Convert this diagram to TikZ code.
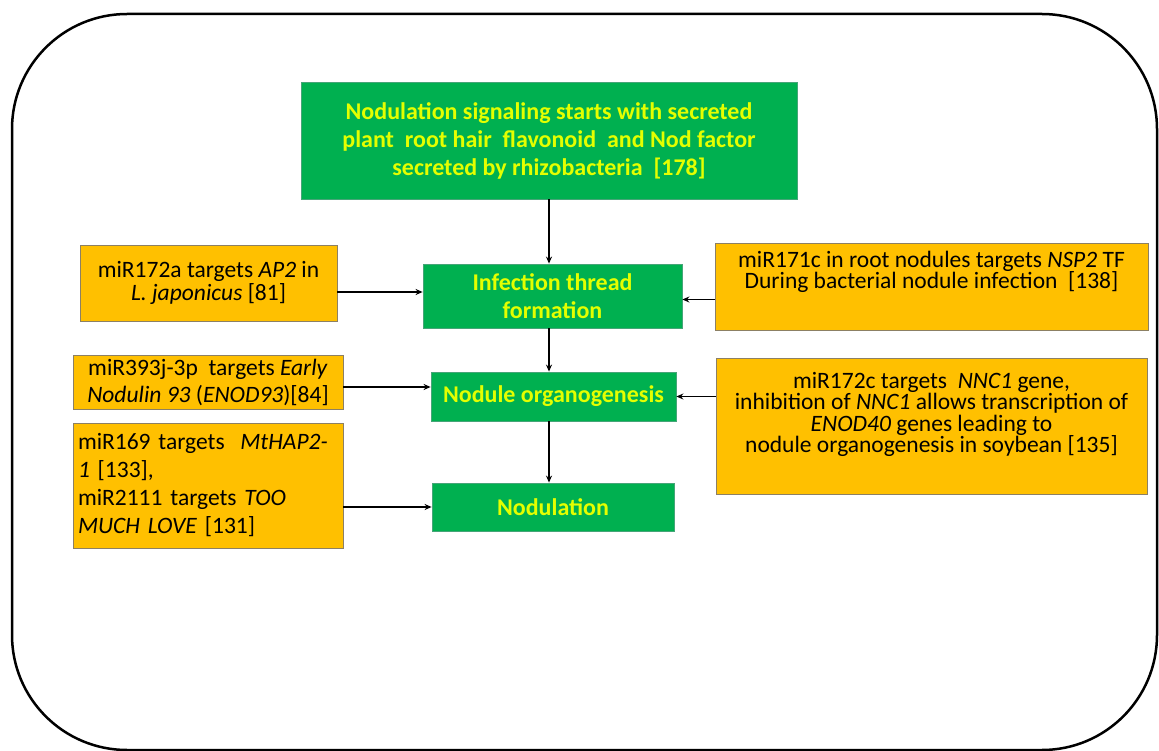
\documentclass[tikz,border=0pt]{standalone}
\usepackage{fontspec}
\setmainfont{Carlito}
\usetikzlibrary{arrows.meta}
\definecolor{nodgreen}{RGB}{0,176,80}
\definecolor{nodgreenedge}{RGB}{70,165,120}
\definecolor{nodyellow}{RGB}{228,255,0}
\definecolor{nodorange}{RGB}{255,192,0}
\definecolor{nodorangeedge}{RGB}{140,128,100}

\begin{document}
\begin{tikzpicture}[x=1pt, y=-1pt,
    greenbox/.style={fill=nodgreen, draw=nodgreenedge, line width=0.8pt, text=nodyellow,
      font=\bfseries\fontsize{24}{28}\selectfont, align=center, inner sep=0pt},
    orangebox/.style={fill=nodorange, draw=nodorangeedge, line width=0.8pt, text=black,
      font=\fontsize{23.5}{23}\selectfont, align=center, inner sep=0pt},
    orangetext/.style={text=black, font=\fontsize{23.5}{21.5}\selectfont, align=center, inner sep=0pt},
    arr/.style={-{Stealth[length=7pt,width=6pt]}, line width=1.4pt}]
  \useasboundingbox (0,0) rectangle (1159,751);
  % outer frame
  \draw[line width=2.5pt, rounded corners=115pt] (12,14) rectangle (1157,750);
  % main chain
  \node[greenbox, minimum width=496, minimum height=117] (signal) at (549,140.5)
    {Nodulation signaling starts with secreted\\
     plant\ \ root hair\ \ flavonoid\ \ and Nod factor\\
     secreted by rhizobacteria\ \ [178]};
  \node[greenbox, minimum width=259, minimum height=64] (infect) at (552.5,296)
    {Infection thread\\formation};
  \node[greenbox, minimum width=245, minimum height=49] (organ) at (553.5,396.5)
    {Nodule organogenesis};
  \node[greenbox, minimum width=242, minimum height=48] (nodul) at (553,507)
    {Nodulation};
  % left side
  \node[orangebox, minimum width=257, minimum height=76] (mir172a) at (208.5,283)
    {miR172a targets \textit{AP2} in\\\textit{L. japonicus} [81]};
  \node[orangebox, minimum width=270, minimum height=54, font=\fontsize{23.5}{27}\selectfont] (mir393) at (208,382)
    {miR393j-3p\ \ targets \textit{Early}\\\textit{Nodulin 93} (\textit{ENOD93})[84]};
  \node[orangebox, minimum width=270, minimum height=125, align=left, text width=260,
    font=\fontsize{23.5}{28}\selectfont] (mir169) at (208,485.5)
    {miR169 targets\ \ \textit{MtHAP2-}\\\textit{1} [133],\\miR2111 targets \textit{TOO}\\\textit{MUCH LOVE} [131]};
  % right side
  \node[orangebox, minimum width=433, minimum height=87] (mir171c) at (931.5,286.5) {};
  \node[orangetext] (mir171ctxt) at (931.5,272)
    {miR171c in root nodules targets \textit{NSP2} TF\\During bacterial nodule infection\ \ [138]};
  \node[orangebox, minimum width=431, minimum height=136] (mir172c) at (931.5,426) {};
  \node[orangetext] (mir172ctxt) at (931.5,414.5)
    {miR172c targets\ \ \textit{NNC1} gene,\\inhibition of \textit{NNC1} allows transcription of\\
     \textit{ENOD40} genes leading to\\nodule organogenesis in soybean [135]};
  % connectors
  \draw[arr] (signal.south) -- (signal.south |- infect.north);
  \draw[arr] (signal.south |- infect.south) -- (signal.south |- organ.north);
  \draw[arr] (signal.south |- organ.south) -- (signal.south |- nodul.north);
  \draw[arr] ([yshift=-9pt]mir172a.east) -- ([yshift=-9pt]mir172a.east -| infect.west);
  \draw[arr] ([yshift=-13pt]mir171c.west) -- ([yshift=-13pt]mir171c.west -| infect.east);
  \draw[arr] ([yshift=-5pt]mir393.east) -- ([yshift=-5pt]mir393.east -| organ.west);
  \draw[arr] (mir172c.west |- organ) -- (organ.east);
  \draw[arr] (mir169.east |- nodul) -- (nodul.west);
\end{tikzpicture}
\end{document}
